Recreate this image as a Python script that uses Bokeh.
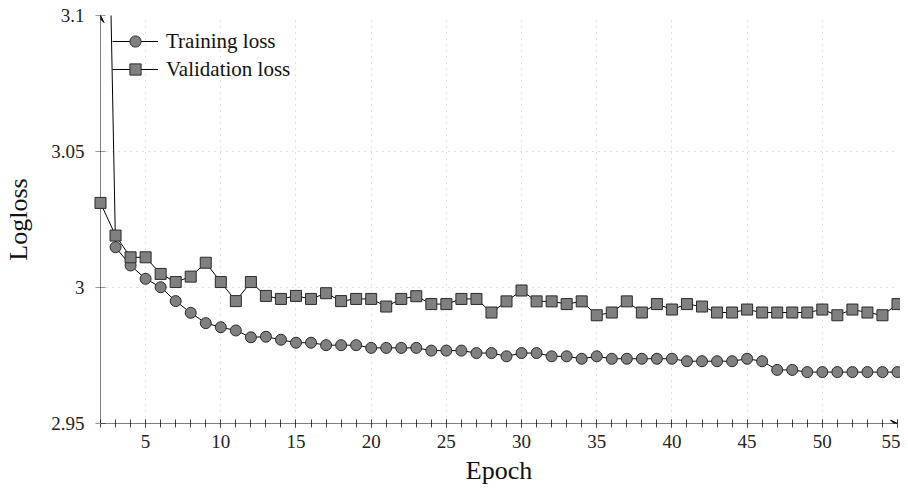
from bokeh.plotting import figure
from bokeh.models import Range1d, FixedTicker, Arrow, VeeHead, Legend
from bokeh.embed import file_html
from bokeh.resources import INLINE

# ---------------- data ----------------
epochs = list(range(2, 56))
training_loss = [
    3.30, 3.0148, 3.0081, 3.0032, 3.0001, 2.9950, 2.9907, 2.9869, 2.9854, 2.9842,
    2.9817, 2.9819, 2.9808, 2.9797, 2.9797, 2.9788, 2.9788, 2.9788, 2.9778, 2.9778,
    2.9778, 2.9778, 2.9768, 2.9768, 2.9768, 2.9759, 2.9759, 2.9747, 2.9759, 2.9759,
    2.9747, 2.9747, 2.9738, 2.9747, 2.9738, 2.9738, 2.9738, 2.9738, 2.9738, 2.9729,
    2.9729, 2.9729, 2.9729, 2.9738, 2.9729, 2.9697, 2.9697, 2.9689, 2.9689, 2.9689,
    2.9689, 2.9689, 2.9689, 2.9689,
]
validation_loss = [
    3.0311, 3.0191, 3.0111, 3.0111, 3.0050, 3.0020, 3.0040, 3.0091, 3.0020, 2.9950,
    3.0020, 2.9969, 2.9958, 2.9969, 2.9958, 2.9979, 2.9950, 2.9958, 2.9958, 2.9930,
    2.9958, 2.9968, 2.9939, 2.9939, 2.9958, 2.9958, 2.9908, 2.9949, 2.9989, 2.9949,
    2.9949, 2.9939, 2.9949, 2.9898, 2.9908, 2.9949, 2.9908, 2.9939, 2.9919, 2.9939,
    2.9930, 2.9908, 2.9908, 2.9919, 2.9908, 2.9908, 2.9908, 2.9908, 2.9919, 2.9898,
    2.9919, 2.9908, 2.9898, 2.9939,
]
x_ticks = [5, 10, 15, 20, 25, 30, 35, 40, 45, 50, 55]
y_ticks = [2.95, 3.0, 3.05, 3.1]
y_tick_labels = {2.95: "2.95", 3.0: "3", 3.05: "3.05", 3.1: "3.1"}
X_MIN, X_MAX = 2, 55
Y_MIN, Y_MAX = 2.95, 3.1

FONT = "Liberation Serif"

p = figure(
    width=900, height=493,
    x_range=Range1d(X_MIN, X_MAX), y_range=Range1d(Y_MIN, Y_MAX),
    output_backend="svg", toolbar_location=None,
    min_border_left=100, min_border_top=15, min_border_right=3, min_border_bottom=70,
)
p.outline_line_color = None
p.background_fill_color = "white"

# axes
for ax in (p.xaxis[0], p.yaxis[0]):
    ax.axis_line_color = None
    ax.major_label_text_font = FONT
    ax.major_label_text_font_size = "19px"
    ax.major_label_text_color = "#222222"
    ax.axis_label_text_font = FONT
    ax.axis_label_text_font_size = "26px"
    ax.axis_label_text_font_style = "normal"
    ax.axis_label_text_color = "#111111"

p.xaxis.axis_label = "Epoch"
p.xaxis.ticker = FixedTicker(ticks=x_ticks, minor_ticks=epochs)
p.xaxis.major_tick_in = 4
p.xaxis.major_tick_out = 4
p.xaxis.minor_tick_in = 4
p.xaxis.minor_tick_out = 4
p.xaxis.major_tick_line_color = "#444444"
p.xaxis.minor_tick_line_color = "#444444"
p.xaxis.major_label_standoff = 7
p.xaxis.axis_label_standoff = 5

p.yaxis.axis_label = "Logloss"
p.yaxis.ticker = FixedTicker(ticks=y_ticks)
p.yaxis.major_tick_in = 5
p.yaxis.major_tick_out = 5
p.yaxis.major_label_overrides = y_tick_labels
p.yaxis.major_tick_line_color = "#999999"
p.yaxis.minor_tick_line_color = None
p.yaxis.major_label_standoff = 11
p.yaxis.axis_label_standoff = 15

# grid
p.xgrid.ticker = FixedTicker(ticks=x_ticks)
p.ygrid.ticker = FixedTicker(ticks=y_ticks)
for g in (p.xgrid[0], p.ygrid[0]):
    g.grid_line_color = "#c4c4c4"
    g.grid_line_dash = "1 5"
    g.grid_line_width = 1

# axis lines with arrow heads
p.add_layout(Arrow(end=VeeHead(size=7, line_color="black", fill_color="black", line_width=1),
                   x_start=X_MIN, y_start=Y_MIN, x_end=X_MIN, y_end=Y_MAX,
                   line_color="black", line_width=1))
p.add_layout(Arrow(end=VeeHead(size=7, line_color="black", fill_color="black", line_width=1),
                   x_start=X_MIN, y_start=Y_MIN, x_end=X_MAX, y_end=Y_MIN,
                   line_color="black", line_width=1))

# series
l1 = p.line(epochs, training_loss, line_color="black", line_width=1)
s1 = p.scatter(epochs, training_loss, marker="circle", size=11,
               fill_color="#808080", line_color="#2a2a2a", line_width=1, level="overlay")
l2 = p.line(epochs, validation_loss, line_color="black", line_width=1)
s2 = p.scatter(epochs, validation_loss, marker="square", size=11,
               fill_color="#808080", line_color="#2a2a2a", line_width=1, level="overlay")

legend = Legend(items=[("Training loss", [l1, s1]), ("Validation loss", [l2, s2])],
                location="top_left")
legend.label_text_font = FONT
legend.label_text_font_size = "21px"
legend.label_text_color = "#111111"
legend.border_line_color = None
legend.background_fill_alpha = 0
legend.glyph_width = 46
legend.glyph_height = 28
legend.label_height = 28
legend.spacing = 0
legend.padding = 2
legend.margin = 12
legend.label_standoff = 8
p.add_layout(legend)

open("out.html", "w").write(file_html(p, INLINE))
